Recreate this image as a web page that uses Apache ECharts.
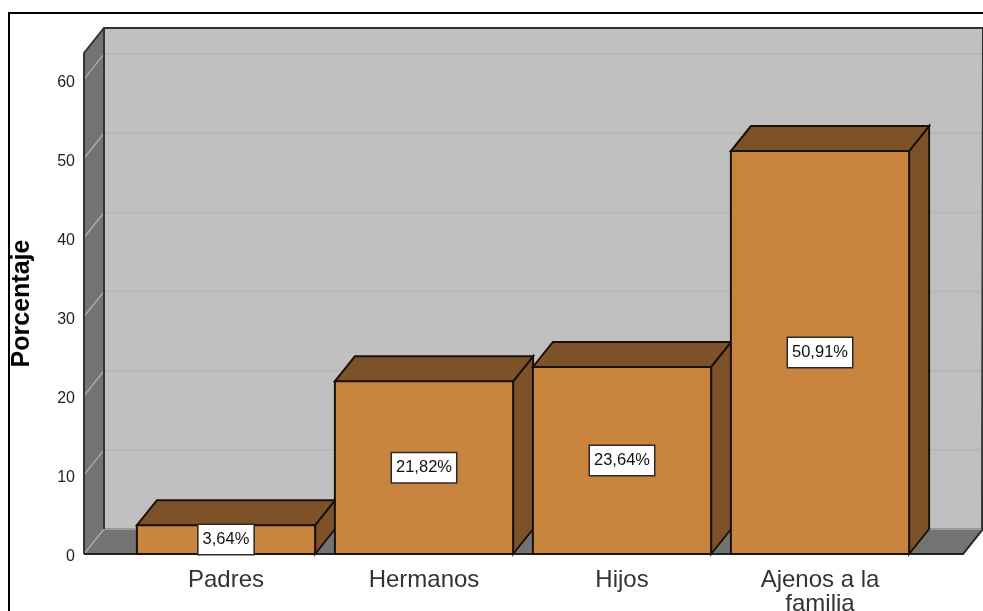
<!DOCTYPE html>
<html><head><meta charset="utf-8">
<style>html,body{margin:0;padding:0;background:#fff}#c{width:983px;height:611px}</style>
<script src="https://cdn.jsdelivr.net/npm/echarts@6/dist/echarts.min.js"></script>
</head><body><div id="c"></div>
<script>
const categories = ['Padres','Hermanos','Hijos','Ajenos a la\nfamilia'];
const values = [3.64,21.82,23.64,50.91];
const valueLabels = ['3,64%','21,82%','23,64%','50,91%'];
const yTicks = [0,10,20,30,40,50,60];
const yMax = 63.3;
const DX = 20, DY = -25, EDGE = '#1a1208', L = 43, R = 44;
const FRONT='#C9853F', DARK='#7D5228', WALL='#C0C0C0', SIDE='#737373', GRID='#B6B6B6', SIDEGRID='#A8A8A8';

const chart = echarts.init(document.getElementById('c'),null,{renderer:'canvas'});
function poly(points,fill,stroke,lw){
  return {type:'polygon',shape:{points},style:{fill,stroke:stroke||'none',lineWidth:lw||0}};
}
function line(points,stroke,lineWidth){
  return {type:'polyline',shape:{points},style:{stroke,lineWidth,fill:'none'}};
}
function wallItem(params,api){
  const cs=params.coordSys, x0=cs.x-L, x1=cs.x+cs.width+R, yb=api.coord([0,0])[1], yt=api.coord([0,yMax])[1];
  const kids=[
    poly([[x0+DX,yb+DY],[x1+DX,yb+DY],[x1+DX,yt+DY],[x0+DX,yt+DY]],WALL),
    poly([[x0,yb],[x0+DX,yb+DY],[x0+DX,yt+DY],[x0,yt]],SIDE),
    poly([[x0,yb],[x1,yb],[x1+DX,yb+DY],[x0+DX,yb+DY]],SIDE)
  ];
  yTicks.forEach(t=>{
    const y=api.coord([0,t])[1];
    kids.push(line([[x0,y],[x0+DX,y+DY]],SIDEGRID,1.5));
    kids.push(line([[x0+DX,y+DY],[x1+DX,y+DY]],t===0?'#9a9a9a':GRID,2));
  });
  kids.push(line([[x0,yb],[x0,yt],[x0+DX,yt+DY],[x1+DX,yt+DY],[x1+DX-1,yb+DY]],'#333',2));
  kids.push(line([[x0+DX,yt+DY],[x0+DX,yb+DY]],'#333',2));
  kids.push(line([[x0,yb],[x1,yb],[x1+DX,yb+DY]],'#222',2));
  return {type:'group',children:kids};
}
function barItem(params,api){
  const i=api.value(0), v=api.value(1), c=api.coord([i,v]), b=api.coord([i,0]);
  const w=api.size([1,0])[0]*0.9, xl=c[0]-w/2, xr=c[0]+w/2, yt=c[1], yb=b[1];
  const kids=[
    poly([[xr,yt],[xr+DX,yt+DY],[xr+DX,yb+DY],[xr,yb]],DARK,EDGE,2),
    poly([[xl,yt],[xr,yt],[xr+DX,yt+DY],[xl+DX,yt+DY]],DARK,EDGE,2),
    poly([[xl,yt],[xr,yt],[xr,yb],[xl,yb]],FRONT,EDGE,2)
  ];
  kids.push({type:'text',x:c[0],y:(yt+yb)/2,style:{text:valueLabels[i],x:0,y:0,align:'center',verticalAlign:'middle',fill:'#111',
    font:'16.5px "Liberation Sans"',backgroundColor:'#fff',borderColor:'#2a2a2a',borderWidth:1.5,padding:[6,4,6,4]}});
  return {type:'group',children:kids};
}
chart.setOption({
  animation:false,
  backgroundColor:'#fff',
  graphic:[{type:'polyline',z:100,silent:true,shape:{points:[[9,620],[9,13],[990,13]]},style:{stroke:'#000',lineWidth:2,fill:'none'}}],
  grid:{left:127,top:53,width:792,height:501,outerBoundsMode:'none'},
  xAxis:{type:'category',data:categories,boundaryGap:true,
    axisLine:{show:false},axisTick:{show:false},splitLine:{show:false},
    axisLabel:{color:'#333',fontFamily:'Liberation Sans',fontSize:24,lineHeight:24,margin:14,interval:0,hideOverlap:false}},
  yAxis:{type:'value',min:0,max:yMax,interval:10,offset:43,
    name:'Porcentaje',nameLocation:'middle',nameGap:49,
    nameTextStyle:{fontFamily:'Liberation Sans',fontWeight:'bold',fontSize:25,color:'#000'},
    axisLine:{show:false},axisTick:{show:false},splitLine:{show:false},
    axisLabel:{margin:9,showMaxLabel:false,
      rich:{t:{color:'#222',fontFamily:'Liberation Sans',fontSize:16,padding:[6,0,0,0]}},
      formatter:v=>yTicks.includes(v)?'{t|'+v+'}':''}},
  series:[
    {type:'custom',z:1,clip:false,silent:true,renderItem:wallItem,data:[[0,0]],encode:{x:0,y:1}},
    {type:'custom',z:2,clip:false,silent:true,renderItem:barItem,data:values.map((v,i)=>[i,v]),encode:{x:0,y:1}}
  ]
});
</script></body></html>
